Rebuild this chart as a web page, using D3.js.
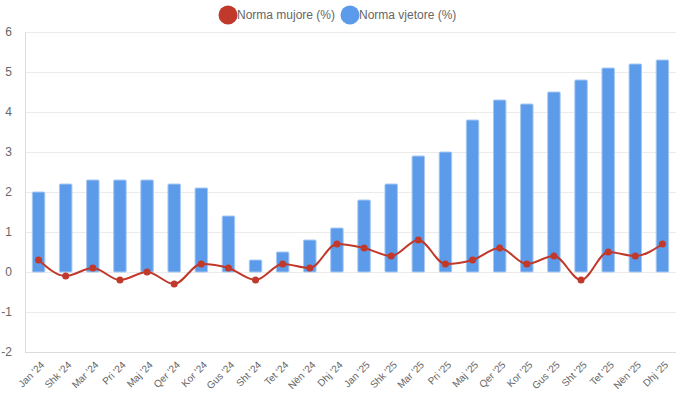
<!DOCTYPE html>
<html>
<head>
<meta charset="utf-8">
<script src="https://cdn.jsdelivr.net/npm/d3@7"></script>
<style>
  body { margin: 0; background: #fff; }
  svg { font-family: "Liberation Sans", Arial, Helvetica, sans-serif; }
</style>
</head>
<body>
<div id="chart"></div>
<script>
// DATA
var months = ["Jan '24", "Shk '24", "Mar '24", "Pri '24", "Maj '24", "Qer '24", "Kor '24", "Gus '24",
              "Sht '24", "Tet '24", "Nën '24", "Dhj '24", "Jan '25", "Shk '25", "Mar '25", "Pri '25",
              "Maj '25", "Qer '25", "Kor '25", "Gus '25", "Sht '25", "Tet '25", "Nën '25", "Dhj '25"];
var annualRate  = [2.0, 2.2, 2.3, 2.3, 2.3, 2.2, 2.1, 1.4, 0.3, 0.5, 0.8, 1.1,
                   1.8, 2.2, 2.9, 3.0, 3.8, 4.3, 4.2, 4.5, 4.8, 5.1, 5.2, 5.3];
var monthlyRate = [0.3, -0.1, 0.1, -0.2, 0.0, -0.3, 0.2, 0.1, -0.2, 0.2, 0.1, 0.7,
                   0.6, 0.4, 0.8, 0.2, 0.3, 0.6, 0.2, 0.4, -0.2, 0.5, 0.4, 0.7];
var yTicks = [-2, -1, 0, 1, 2, 3, 4, 5, 6];
var seriesNames = ['Norma mujore (%)', 'Norma vjetore (%)'];

var W = 682, H = 400;
var margin = { top: 32, right: 6, bottom: 48, left: 25 };
var width  = W - margin.left - margin.right;
var height = H - margin.top - margin.bottom;

var red  = '#c0392b';
var blue = '#5b9be9';

var svg = d3.select('#chart').append('svg')
  .attr('width', W).attr('height', H);

var g = svg.append('g')
  .attr('transform', 'translate(' + margin.left + ',' + margin.top + ')');

var x = d3.scaleBand().domain(months).range([0, width]).paddingInner(0.54).paddingOuter(0.27);
var y = d3.scaleLinear().domain([-2, 6]).range([height, 0]);

// grid
g.append('g').selectAll('line')
  .data(yTicks)
  .enter().append('line')
  .attr('x1', 0).attr('x2', width)
  .attr('y1', function(d) { return y(d) + 0.5; })
  .attr('y2', function(d) { return y(d) + 0.5; })
  .attr('stroke', function(d) { return d === -2 ? '#dcdcdc' : '#ebebeb'; });

g.append('line')
  .attr('x1', 0.5).attr('x2', 0.5).attr('y1', 0).attr('y2', height)
  .attr('stroke', '#dcdcdc');

// y labels
g.append('g').selectAll('text')
  .data(yTicks)
  .enter().append('text')
  .attr('x', -13)
  .attr('y', function(d) { return y(d); })
  .attr('dy', '0.35em')
  .attr('text-anchor', 'end')
  .attr('font-size', 12)
  .attr('fill', '#666')
  .text(function(d) { return d; });

// x labels
g.append('g').selectAll('text')
  .data(months)
  .enter().append('text')
  .attr('transform', function(d) {
    return 'translate(' + (x(d) + x.bandwidth() / 2 + 4) + ',' + (height + 11) + ') rotate(-45)';
  })
  .attr('text-anchor', 'end')
  .attr('dy', '0.35em')
  .attr('font-size', 10)
  .attr('fill', '#666')
  .text(function(d) { return d; });

// bars
g.append('g').selectAll('rect')
  .data(annualRate)
  .enter().append('rect')
  .attr('x', function(d, i) { return x(months[i]); })
  .attr('width', x.bandwidth())
  .attr('y', function(d) { return y(Math.max(0, d)); })
  .attr('height', function(d) { return Math.abs(y(d) - y(0)); })
  .attr('rx', 1)
  .attr('fill', blue)
  .attr('stroke', '#a9c9f3')
  .attr('stroke-width', 1);

// line
var line = d3.line()
  .x(function(d, i) { return x(months[i]) + x.bandwidth() / 2; })
  .y(function(d) { return y(d); })
  .curve(d3.curveMonotoneX);

g.append('path')
  .datum(monthlyRate)
  .attr('d', line)
  .attr('fill', 'none')
  .attr('stroke', red)
  .attr('stroke-width', 2);

g.append('g').selectAll('circle')
  .data(monthlyRate)
  .enter().append('circle')
  .attr('cx', function(d, i) { return x(months[i]) + x.bandwidth() / 2; })
  .attr('cy', function(d) { return y(d); })
  .attr('r', 3.5)
  .attr('fill', red);

// legend
var legend = svg.append('g');
var legendItems = [
  { name: seriesNames[0], color: red,  cx: 228 },
  { name: seriesNames[1], color: blue, cx: 350 }
];
legendItems.forEach(function(it) {
  legend.append('circle')
    .attr('cx', it.cx).attr('cy', 15).attr('r', 9.5)
    .attr('fill', it.color);
  legend.append('text')
    .attr('x', it.cx + 9).attr('y', 15)
    .attr('dy', '0.35em')
    .attr('font-size', 12)
    .attr('fill', '#666')
    .text(it.name);
});
</script>
</body>
</html>
